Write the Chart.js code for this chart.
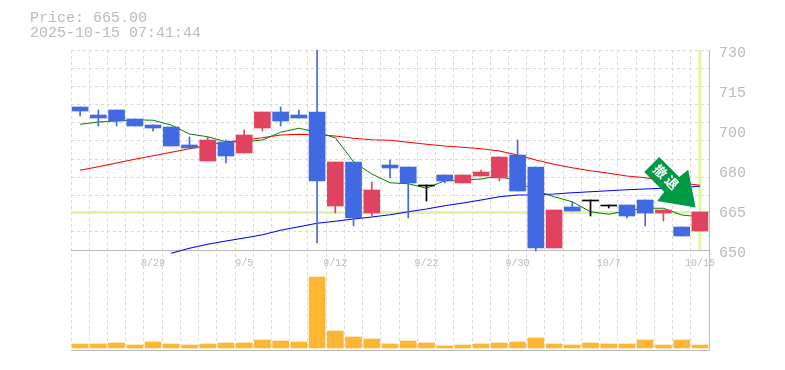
<!DOCTYPE html>
<html>
<head>
<meta charset="utf-8">
<style>
html,body{margin:0;padding:0;background:#fff;}
#wrap{position:relative;width:785px;height:370px;overflow:hidden;}
canvas{position:absolute;left:0;top:0;}
#head{position:absolute;left:30px;top:11px;font:15px/15px "Liberation Mono",monospace;color:#bbb;white-space:pre;}
</style>
<script src="https://cdn.jsdelivr.net/npm/chart.js@4"></script>
</head>
<body>
<div id="wrap">
<canvas id="c" width="785" height="370"></canvas>
<div id="head">Price: 665.00
2025-10-15 07:41:44</div>
</div>
<script>
const categories = ['8/25','8/26','8/27','8/28','8/29','9/1','9/2','9/3','9/4','9/5','9/8','9/9','9/10','9/11','9/12','9/16','9/17','9/18','9/19','9/22','9/24','9/25','9/26','9/29','9/30','10/1','10/2','10/3','10/6','10/7','10/8','10/9','10/10','10/14','10/15'];
const labelledDates = ['8/29','9/5','9/12','9/22','9/30','10/7','10/15'];
const priceTickValues = [650,666,682,698,714,730];
const priceTickLabels = ['650','665','680','700','715','730'];
const lastPrice = 665;
const kinds = ['b','b','b','b','b','b','b','r','b','r','r','b','b','b','r','b','r','b','b','k','b','r','r','r','b','b','r','b','k','k','b','b','r','b','r'];
const bodyTop = [707.2,704,706,702.4,700,699.2,692,694,693.2,696,705.2,705.2,704,705.2,685.2,685.2,674,684,683.2,676,680,680,681.2,687.2,688,683.2,666,667.2,670,668,668,670,666,659.2,665.2];
const bodyBottom = [705.6,702.8,701.6,699.6,698.8,691.6,690.8,685.6,687.6,688.8,698.8,701.6,702.8,677.6,667.6,662.8,664.8,682.8,676.8,675.6,677.6,676.8,679.6,678.8,673.6,650.8,650.8,665.6,669.6,667.6,663.6,664.8,664.8,655.6,657.6];
const wickHigh = [707.2,706,706,702.4,700,699.2,695.2,695.2,694,698,705.2,707.2,706,730,685.2,685.2,677.2,686,683.2,676,680,680,682,687.2,694,683.2,666,669.2,670,668,668,670,666,659.2,665.2];
const wickLow = [703.6,699.6,699.6,699.6,697.6,691.6,690.8,685.6,684.8,688.8,697.6,699.6,702.8,652.8,664.8,659.6,663.6,678.8,662.8,669.6,676.8,676.8,679.6,677.6,673.6,649.6,650.8,665.6,663.6,666.8,662.8,659.6,661.6,655.6,657.6];
const maShort = [700.3,701.2,701.6,702.1,701.9,700,696.4,695.3,693.3,693.3,694,697.1,698.7,697.1,694.9,685.3,680.4,676.9,676.5,674.7,677.7,678,678.4,679.7,677.3,673.7,671.3,669.3,665.3,664.3,665.7,666.7,666.7,664,663.3];
const maMid = [681.9,683.3,684.8,686.3,687.7,689.1,690.5,691.9,693.2,694,694.9,696,696.3,696.1,695.6,694.7,694.1,693.9,693.1,692.3,691.6,691.1,690.5,689.6,688,686,684.3,682.9,681.7,680.7,679.6,678.9,677.8,676.8,675.9];
const maLong = [null,null,null,null,null,648.7,650.7,652.3,653.6,654.8,656.1,657.9,659.3,660.7,661.5,662.4,663.2,664.1,665.3,666.4,667.7,668.8,670,671.3,672,672.1,672.4,672.9,673.3,673.7,674.1,674.4,674.7,675.1,675.5];
const volumes = [4,4,5,3,6,4,3,4,5,5,8,7,6,71,17,11,9,4,7,5,2,3,4,5,6,10,4,3,5,4,4,8,3,8,3];
const arrowText = '撤退';

const palette = {r:'#E0435F', b:'#4169E1', k:'#000000'};
const candleColors = kinds.map(k => palette[k]);
const gridColor = '#d9d9d9';
const axisColor = '#bbbbbb';
const textColor = '#bbbbbb';
const markerColor = '#E2F4A0';
const monoFont = '"Liberation Mono", monospace';

function pairs(a, b){ return a.map((v,i) => [b[i], v]); }

const gridValues = [];
for (let i = 0; i <= 11; i++) gridValues.push(650 + i * 80 / 11);

const guides = {
  id: 'guides',
  beforeDatasetsDraw(chart){
    const {ctx, chartArea:a, scales:{x,y}} = chart;
    ctx.save();
    ctx.strokeStyle = markerColor;
    ctx.lineWidth = 3;
    ctx.beginPath();
    const py = y.getPixelForValue(lastPrice);
    ctx.moveTo(a.left, py); ctx.lineTo(a.right, py);
    const px = x.getPixelForValue(categories.length - 1);
    ctx.moveTo(px, y.top); ctx.lineTo(px, y.bottom);
    ctx.stroke();
    ctx.restore();
  }
};

const arrow = {
  id: 'arrow',
  afterDatasetsDraw(chart){
    const {ctx, scales:{x,y}} = chart;
    const tx = x.getPixelForValue(categories.length - 1) - 4.3;
    const ty = y.getPixelForValue(667);
    const shape = [[-36.4,-50.4],[-51.4,-35.4],[-31.4,-15.4],[-38.4,-6.4],[0,0],[-7.4,-37.7],[-16.4,-30.4]];
    ctx.save();
    ctx.translate(tx, ty);
    ctx.fillStyle = '#009944';
    ctx.beginPath();
    shape.forEach((p,i) => i ? ctx.lineTo(p[0],p[1]) : ctx.moveTo(p[0],p[1]));
    ctx.closePath();
    ctx.fill();
    ctx.translate(-29.5, -30.5);
    ctx.rotate(Math.PI/4);
    ctx.fillStyle = '#ffffff';
    ctx.font = 'bold 13px "Noto Sans CJK JP"';
    ctx.textAlign = 'center';
    ctx.textBaseline = 'middle';
    ctx.fillText(arrowText[0], -8, 0);
    ctx.fillText(arrowText[1], 8, 0);
    ctx.restore();
  }
};

const lineBase = {type:'line', yAxisID:'y', borderWidth:1.2, pointRadius:0, tension:0, fill:false, clip:false, order:5, spanGaps:false};
const barBase = {type:'bar', grouped:false, borderWidth:0, clip:false};

new Chart(document.getElementById('c'), {
  data: {
    labels: categories,
    datasets: [
      {...lineBase, label:'MA short', data:maShort, borderColor:'#008000', borderWidth:1},
      {...lineBase, label:'MA mid', data:maMid, borderColor:'#ff0000'},
      {...lineBase, label:'MA long', data:maLong, borderColor:'#0000ff'},
      {...barBase, label:'Wick', yAxisID:'y', data:pairs(wickHigh,wickLow), backgroundColor:candleColors, barThickness:1, minBarLength:1, order:2},
      {...barBase, label:'Body', yAxisID:'y', data:pairs(bodyTop,bodyBottom), backgroundColor:candleColors, barThickness:16, order:1},
      {...barBase, label:'Volume', yAxisID:'yVol', data:volumes, backgroundColor:'#FFB733', barThickness:16, order:3}
    ]
  },
  options: {
    responsive:false,
    animation:false,
    events:[],
    layout:{padding:{left:71, top:50, bottom:20, right:0}},
    plugins:{legend:{display:false}, tooltip:{enabled:false}},
    scales:{
      x:{
        type:'category',
        offset:true,
        position:{y:650},
        grid:{color:gridColor, lineWidth:1, drawTicks:false, offset:true},
        border:{display:true, color:axisColor, dash:[3,3]},
        ticks:{
          autoSkip:false, maxRotation:0, minRotation:0, padding:7,
          color:textColor, font:{family:monoFont, size:10},
          callback(v){ const l = this.getLabelForValue(v); return labelledDates.includes(l) ? l : ''; }
        }
      },
      y:{
        type:'linear', position:'right', stack:'main', stackWeight:2,
        min:650, max:730,
        afterFit(s){ s.width = 76; },
        afterBuildTicks(s){
          const all = gridValues.map(v => ({value:v}));
          priceTickValues.slice(1,-1).forEach(v => all.push({value:v}));
          s.ticks = all.sort((a,b) => a.value - b.value);
        },
        grid:{
          drawTicks:false,
          lineWidth:1,
          color(ctx){ return gridValues.some(g => Math.abs(g - ctx.tick.value) < 1e-6) ? gridColor : 'rgba(0,0,0,0)'; }
        },
        border:{display:true, color:axisColor, dash:[3,3]},
        ticks:{
          autoSkip:false, padding:10, align:'center', color:textColor,
          font:{family:monoFont, size:15, lineHeight:'6px'},
          callback(v){
            const i = priceTickValues.findIndex(t => Math.abs(t - v) < 1e-6);
            return i >= 0 ? ['', priceTickLabels[i]] : '';
          }
        }
      },
      yVol:{
        type:'linear', position:'right', stack:'main', stackWeight:1,
        min:-2, max:98,
        afterFit(s){ s.width = 76; },
        afterBuildTicks(s){ s.ticks = [{value:-2}]; },
        grid:{drawTicks:false, color:axisColor, lineWidth:1},
        border:{display:true, color:axisColor},
        ticks:{display:false}
      }
    }
  },
  plugins:[guides, arrow]
});
</script>
</body>
</html>
